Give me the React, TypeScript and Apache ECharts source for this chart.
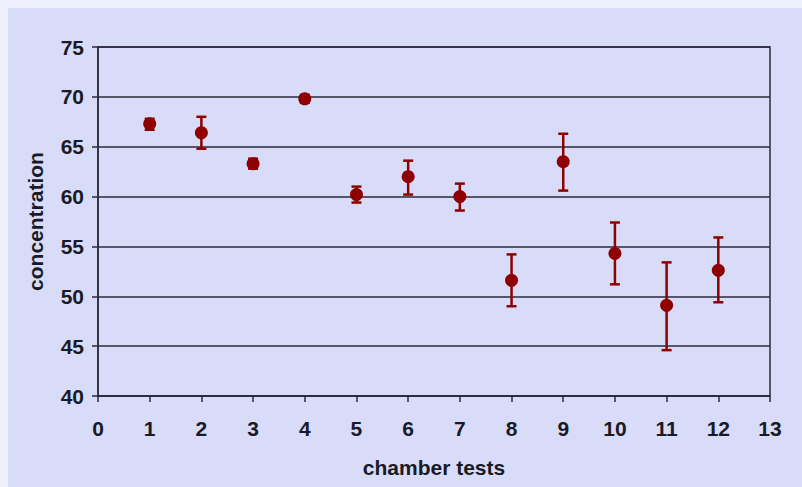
import React, { useEffect, useRef } from "react";
import * as echarts from "echarts";

const tests = [1, 2, 3, 4, 5, 6, 7, 8, 9, 10, 11, 12];
const concentration = [67.3, 66.4, 63.3, 69.8, 60.2, 62.0, 60.0, 51.6, 63.5, 54.3, 49.1, 52.6];
const upper = [67.8, 68.0, 63.8, 70.2, 61.0, 63.6, 61.3, 54.2, 66.3, 57.4, 53.4, 55.9];
const lower = [66.7, 64.8, 62.8, 69.4, 59.4, 60.2, 58.6, 49.0, 60.6, 51.2, 44.6, 49.4];

const xTicks = { min: 0, max: 13, interval: 1 };
const yTicks = { min: 40, max: 75, interval: 5 };

const RED = "#8f0000";
const INK = "#1a1a26";
const FONT = "'Liberation Sans', Arial, sans-serif";

export default function App() {
  const ref = useRef<HTMLDivElement>(null);
  useEffect(() => {
    if (!ref.current) return;
    const chart = echarts.init(ref.current, null, { renderer: "svg" });
    const errData = tests.map((t, i) => [t, lower[i], upper[i]]);
    chart.setOption({
      animation: false,
      backgroundColor: "#eeeffa",
      graphic: [
        {
          type: "rect",
          left: 8,
          top: 8,
          shape: { width: 794, height: 479 },
          style: { fill: "#d8dcf8" },
          z: -10,
          silent: true,
        },
      ],
      grid: {
        left: 98,
        top: 47,
        right: 32,
        bottom: 91,
        show: true,
        borderColor: "#2a2a38",
        borderWidth: 1.5,
        backgroundColor: "transparent",
      },
      xAxis: {
        type: "value",
        min: xTicks.min,
        max: xTicks.max,
        interval: xTicks.interval,
        name: "chamber tests",
        nameLocation: "middle",
        nameGap: 61,
        nameTextStyle: { fontFamily: FONT, fontWeight: "bold", fontSize: 21, color: INK },
        axisLine: { show: true, onZero: false, lineStyle: { color: "#2a2a38", width: 1.5 } },
        axisTick: { show: true, inside: false, length: 6, lineStyle: { color: "#2a2a38", width: 1.5 } },
        axisLabel: { fontFamily: FONT, fontWeight: "bold", fontSize: 21, color: INK, margin: 22 },
        splitLine: { show: false },
      },
      yAxis: {
        type: "value",
        min: yTicks.min,
        max: yTicks.max,
        interval: yTicks.interval,
        name: "concentration",
        nameLocation: "middle",
        nameGap: 52,
        nameTextStyle: { fontFamily: FONT, fontWeight: "bold", fontSize: 21, color: INK },
        axisLine: { show: true, onZero: false, lineStyle: { color: "#2a2a38", width: 1.5 } },
        axisTick: { show: true, inside: false, length: 6, lineStyle: { color: "#2a2a38", width: 1.5 } },
        axisLabel: { fontFamily: FONT, fontWeight: "bold", fontSize: 21, color: INK, margin: 14 },
        splitLine: { show: true, lineStyle: { color: "#2a2a38", width: 1.5 } },
      },
      series: [
        {
          type: "custom",
          name: "error",
          data: errData,
          z: 3,
          renderItem: (params: any, api: any) => {
            const x = api.value(0);
            const lo = api.coord([x, api.value(1)]);
            const hi = api.coord([x, api.value(2)]);
            const hw = 5;
            const style = { stroke: RED, lineWidth: 2.5 };
            return {
              type: "group",
              children: [
                { type: "line", shape: { x1: lo[0], y1: lo[1], x2: hi[0], y2: hi[1] }, style },
                { type: "line", shape: { x1: hi[0] - hw, y1: hi[1], x2: hi[0] + hw, y2: hi[1] }, style },
                { type: "line", shape: { x1: lo[0] - hw, y1: lo[1], x2: lo[0] + hw, y2: lo[1] }, style },
              ],
            };
          },
        },
        {
          type: "scatter",
          name: "concentration",
          data: tests.map((t, i) => [t, concentration[i]]),
          symbol: "circle",
          symbolSize: 13,
          itemStyle: { color: RED, opacity: 1 },
          z: 4,
        },
      ],
    });
    return () => chart.dispose();
  }, []);
  return (
    <div
      ref={ref}
      style={{ position: "fixed", left: 0, top: 0, width: 802, height: 487 }}
    />
  );
}
